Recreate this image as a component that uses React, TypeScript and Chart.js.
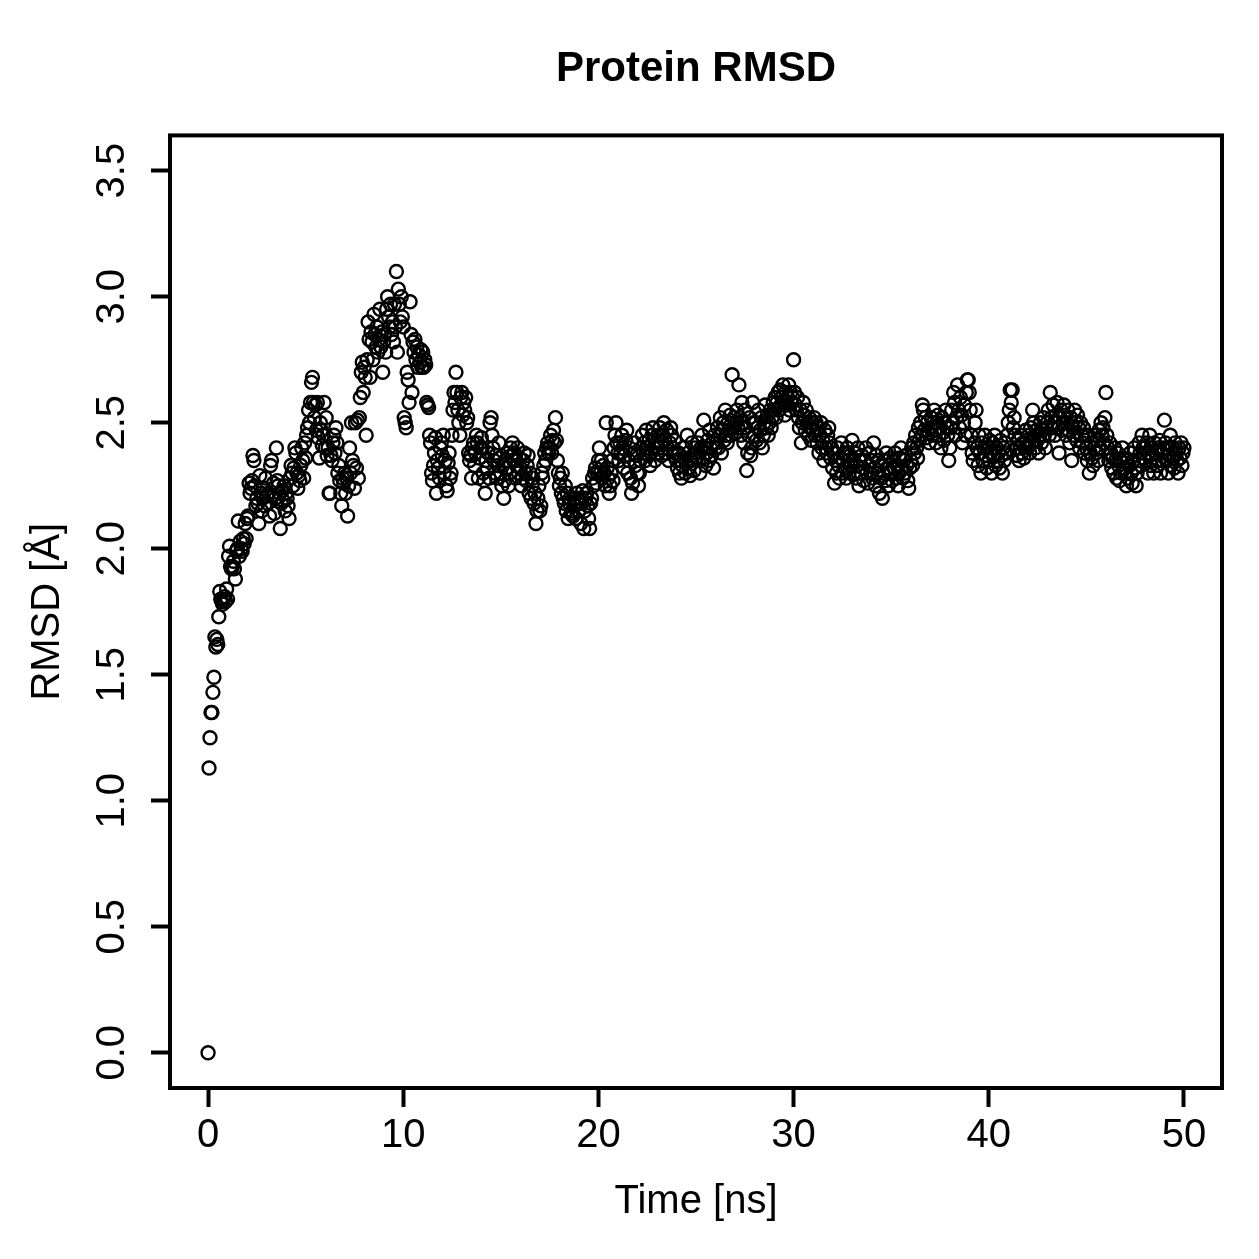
import { useEffect, useRef } from "react";
import { Chart, registerables } from "chart.js";

Chart.register(...registerables);

// Trajectory frames are written every 0.05 ns.
const FRAME_STEP_NS = 0.05;

// Backbone RMSD (Å), one row per nanosecond.
const rmsd00to10 = [
  0.00, 1.13, 1.25, 1.35, 1.35, 1.43, 1.49, 1.65, 1.61, 1.64, 1.62, 1.73, 1.83, 1.80, 1.79, 1.78, 1.80, 1.81, 1.79, 1.84,
  1.80, 1.97, 2.01, 1.93, 1.92, 1.93, 1.95, 1.92, 1.88, 1.99, 2.00, 2.11, 1.97, 2.03, 2.00, 1.99, 2.04, 2.02, 2.10, 2.04,
  2.12, 2.13, 2.26, 2.22, 2.24, 2.27, 2.37, 2.35, 2.25, 2.17, 2.20, 2.18, 2.10, 2.29, 2.22, 2.15, 2.20, 2.24, 2.17, 2.28,
  2.21, 2.18, 2.22, 2.13, 2.33, 2.35, 2.21, 2.26, 2.14, 2.20, 2.40, 2.27, 2.25, 2.22, 2.08, 2.18, 2.23, 2.19, 2.25, 2.15,
  2.22, 2.20, 2.17, 2.12, 2.28, 2.33, 2.30, 2.25, 2.32, 2.40, 2.38, 2.30, 2.24, 2.29, 2.27, 2.33, 2.40, 2.35, 2.28, 2.42,
  2.36, 2.45, 2.48, 2.55, 2.50, 2.58, 2.66, 2.68, 2.58, 2.52, 2.57, 2.47, 2.58, 2.44, 2.36, 2.50, 2.47, 2.41, 2.45, 2.58,
  2.40, 2.52, 2.37, 2.40, 2.22, 2.22, 2.37, 2.35, 2.42, 2.45, 2.38, 2.48, 2.42, 2.30, 2.33, 2.27, 2.22, 2.17, 2.28, 2.26,
  2.30, 2.22, 2.28, 2.13, 2.25, 2.40, 2.30, 2.50, 2.35, 2.33, 2.24, 2.50, 2.32, 2.51, 2.28, 2.52, 2.60, 2.70, 2.74, 2.62,
  2.72, 2.68, 2.45, 2.75, 2.90, 2.83, 2.68, 2.86, 2.82, 2.75, 2.93, 2.85, 2.80, 2.88, 2.78, 2.83, 2.95, 2.80, 2.86, 2.70,
  2.82, 2.85, 2.78, 2.95, 3.00, 2.92, 2.88, 2.97, 2.85, 2.90, 2.82, 2.97, 2.88, 3.10, 2.78, 3.03, 2.97, 2.90, 3.00, 2.92,
];

const rmsd10to20 = [
  2.88, 2.52, 2.50, 2.48, 2.70, 2.67, 2.58, 2.98, 2.85, 2.62, 2.82, 2.78, 2.83, 2.75, 2.80, 2.72, 2.77, 2.74, 2.79, 2.72,
  2.78, 2.72, 2.75, 2.73, 2.58, 2.57, 2.56, 2.45, 2.42, 2.30, 2.27, 2.33, 2.38, 2.44, 2.22, 2.35, 2.32, 2.28, 2.40, 2.42,
  2.37, 2.45, 2.30, 2.35, 2.25, 2.23, 2.34, 2.38, 2.28, 2.30, 2.45, 2.55, 2.62, 2.58, 2.70, 2.62, 2.55, 2.50, 2.45, 2.60,
  2.62, 2.53, 2.58, 2.55, 2.60, 2.50, 2.52, 2.38, 2.35, 2.37, 2.28, 2.40, 2.42, 2.33, 2.38, 2.45, 2.42, 2.28, 2.36, 2.40,
  2.44, 2.40, 2.30, 2.27, 2.22, 2.35, 2.32, 2.38, 2.28, 2.50, 2.52, 2.45, 2.40, 2.35, 2.30, 2.37, 2.28, 2.33, 2.42, 2.36,
  2.30, 2.25, 2.33, 2.20, 2.27, 2.35, 2.32, 2.38, 2.25, 2.30, 2.40, 2.37, 2.42, 2.35, 2.38, 2.28, 2.33, 2.40, 2.30, 2.36,
  2.32, 2.25, 2.28, 2.35, 2.38, 2.30, 2.27, 2.33, 2.37, 2.22, 2.30, 2.20, 2.25, 2.28, 2.18, 2.22, 2.10, 2.15, 2.20, 2.25,
  2.15, 2.17, 2.30, 2.28, 2.33, 2.38, 2.35, 2.40, 2.42, 2.38, 2.40, 2.45, 2.38, 2.43, 2.47, 2.42, 2.52, 2.43, 2.35, 2.30,
  2.25, 2.28, 2.22, 2.30, 2.20, 2.18, 2.25, 2.15, 2.22, 2.12, 2.18, 2.20, 2.14, 2.15, 2.13, 2.20, 2.17, 2.12, 2.22, 2.18,
  2.15, 2.20, 2.10, 2.18, 2.23, 2.08, 2.15, 2.20, 2.22, 2.17, 2.12, 2.08, 2.18, 2.20, 2.28, 2.25, 2.30, 2.32, 2.26, 2.30,
];

const rmsd20to30 = [
  2.35, 2.40, 2.30, 2.35, 2.28, 2.33, 2.30, 2.25, 2.50, 2.32, 2.28, 2.22, 2.25, 2.30, 2.35, 2.27, 2.40, 2.45, 2.50, 2.42,
  2.38, 2.35, 2.42, 2.38, 2.45, 2.40, 2.32, 2.37, 2.43, 2.47, 2.30, 2.35, 2.40, 2.28, 2.22, 2.26, 2.38, 2.42, 2.33, 2.37,
  2.30, 2.25, 2.30, 2.35, 2.40, 2.45, 2.38, 2.42, 2.35, 2.47, 2.40, 2.37, 2.43, 2.33, 2.38, 2.45, 2.48, 2.40, 2.35, 2.42,
  2.38, 2.45, 2.40, 2.48, 2.42, 2.37, 2.45, 2.50, 2.43, 2.38, 2.47, 2.40, 2.35, 2.42, 2.48, 2.45, 2.40, 2.37, 2.43, 2.38,
  2.35, 2.32, 2.38, 2.30, 2.35, 2.28, 2.33, 2.40, 2.36, 2.30, 2.34, 2.45, 2.38, 2.32, 2.29, 2.35, 2.42, 2.37, 2.31, 2.40,
  2.36, 2.38, 2.42, 2.35, 2.30, 2.40, 2.45, 2.36, 2.51, 2.40, 2.33, 2.38, 2.43, 2.35, 2.47, 2.40, 2.37, 2.42, 2.32, 2.45,
  2.40, 2.42, 2.48, 2.40, 2.45, 2.52, 2.38, 2.47, 2.50, 2.43, 2.55, 2.45, 2.42, 2.50, 2.47, 2.53, 2.45, 2.69, 2.48, 2.52,
  2.46, 2.50, 2.55, 2.48, 2.65, 2.52, 2.45, 2.58, 2.50, 2.42, 2.55, 2.48, 2.31, 2.38, 2.45, 2.52, 2.37, 2.40, 2.58, 2.50,
  2.45, 2.50, 2.43, 2.48, 2.55, 2.42, 2.47, 2.52, 2.40, 2.45, 2.50, 2.57, 2.48, 2.53, 2.45, 2.50, 2.55, 2.48, 2.52, 2.58,
  2.55, 2.60, 2.52, 2.58, 2.62, 2.55, 2.63, 2.57, 2.60, 2.65, 2.58, 2.53, 2.62, 2.57, 2.60, 2.65, 2.55, 2.62, 2.58, 2.60,
];

const rmsd30to40 = [
  2.75, 2.62, 2.57, 2.55, 2.60, 2.52, 2.48, 2.55, 2.42, 2.50, 2.58, 2.53, 2.47, 2.55, 2.50, 2.45, 2.52, 2.48, 2.43, 2.50,
  2.47, 2.52, 2.45, 2.50, 2.42, 2.48, 2.38, 2.45, 2.50, 2.40, 2.43, 2.35, 2.47, 2.40, 2.38, 2.45, 2.48, 2.42, 2.36, 2.40,
  2.32, 2.38, 2.26, 2.35, 2.30, 2.40, 2.33, 2.28, 2.36, 2.42, 2.30, 2.35, 2.38, 2.32, 2.28, 2.40, 2.35, 2.30, 2.37, 2.33,
  2.43, 2.35, 2.30, 2.38, 2.28, 2.33, 2.40, 2.25, 2.35, 2.30, 2.37, 2.32, 2.27, 2.35, 2.40, 2.30, 2.26, 2.33, 2.38, 2.30,
  2.35, 2.28, 2.42, 2.32, 2.25, 2.37, 2.30, 2.35, 2.22, 2.33, 2.28, 2.20, 2.30, 2.35, 2.27, 2.38, 2.32, 2.25, 2.30, 2.36,
  2.30, 2.27, 2.35, 2.32, 2.38, 2.28, 2.33, 2.25, 2.30, 2.36, 2.40, 2.32, 2.28, 2.35, 2.30, 2.37, 2.33, 2.27, 2.24, 2.32,
  2.35, 2.40, 2.33, 2.42, 2.38, 2.45, 2.40, 2.36, 2.48, 2.43, 2.50, 2.45, 2.57, 2.55, 2.47, 2.52, 2.44, 2.50, 2.46, 2.42,
  2.48, 2.52, 2.45, 2.50, 2.55, 2.47, 2.42, 2.50, 2.53, 2.45, 2.48, 2.40, 2.52, 2.46, 2.43, 2.50, 2.55, 2.48, 2.45, 2.35,
  2.40, 2.48, 2.55, 2.50, 2.62, 2.58, 2.45, 2.52, 2.65, 2.55, 2.48, 2.60, 2.53, 2.42, 2.50, 2.57, 2.45, 2.62, 2.67, 2.67,
  2.62, 2.55, 2.45, 2.38, 2.35, 2.42, 2.50, 2.55, 2.40, 2.33, 2.45, 2.38, 2.30, 2.42, 2.35, 2.40, 2.45, 2.37, 2.32, 2.40,
];

const rmsd40to50 = [
  2.35, 2.43, 2.38, 2.30, 2.42, 2.37, 2.45, 2.33, 2.40, 2.35, 2.38, 2.32, 2.43, 2.37, 2.30, 2.40, 2.35, 2.42, 2.38, 2.45,
  2.50, 2.55, 2.63, 2.58, 2.63, 2.48, 2.52, 2.45, 2.40, 2.37, 2.43, 2.35, 2.40, 2.45, 2.38, 2.42, 2.36, 2.40, 2.47, 2.43,
  2.40, 2.45, 2.38, 2.48, 2.42, 2.55, 2.50, 2.45, 2.40, 2.47, 2.43, 2.38, 2.45, 2.50, 2.42, 2.47, 2.52, 2.45, 2.40, 2.48,
  2.50, 2.55, 2.45, 2.62, 2.52, 2.48, 2.57, 2.50, 2.45, 2.53, 2.58, 2.48, 2.38, 2.52, 2.55, 2.47, 2.50, 2.57, 2.53, 2.45,
  2.50, 2.55, 2.47, 2.42, 2.52, 2.35, 2.48, 2.45, 2.55, 2.50, 2.43, 2.53, 2.48, 2.40, 2.50, 2.45, 2.42, 2.48, 2.38, 2.45,
  2.40, 2.35, 2.45, 2.30, 2.38, 2.42, 2.36, 2.33, 2.40, 2.45, 2.38, 2.43, 2.35, 2.47, 2.40, 2.50, 2.45, 2.48, 2.42, 2.52,
  2.62, 2.45, 2.40, 2.35, 2.42, 2.38, 2.32, 2.36, 2.30, 2.40, 2.35, 2.28, 2.38, 2.33, 2.27, 2.35, 2.30, 2.40, 2.36, 2.32,
  2.30, 2.25, 2.35, 2.28, 2.33, 2.38, 2.30, 2.26, 2.35, 2.40, 2.32, 2.25, 2.30, 2.35, 2.42, 2.38, 2.33, 2.45, 2.40, 2.36,
  2.40, 2.35, 2.42, 2.30, 2.38, 2.45, 2.33, 2.40, 2.36, 2.30, 2.42, 2.38, 2.33, 2.40, 2.35, 2.43, 2.30, 2.38, 2.35, 2.40,
  2.51, 2.42, 2.35, 2.40, 2.30, 2.37, 2.45, 2.33, 2.40, 2.36, 2.32, 2.42, 2.38, 2.35, 2.30, 2.40, 2.36, 2.42, 2.33, 2.38,
  2.40,
];

const timeTicks = [0, 10, 20, 30, 40, 50];
const rmsdTicks = [0, 0.5, 1.0, 1.5, 2.0, 2.5, 3.0, 3.5];

const FONT = "'Liberation Sans', Arial, Helvetica, sans-serif";

const rmsdSeries = [...rmsd00to10, ...rmsd10to20, ...rmsd20to30, ...rmsd30to40, ...rmsd40to50];
const rmsdPoints = rmsdSeries.map((y, i) => ({ x: Math.round(i * FRAME_STEP_NS * 100) / 100, y }));

// Closed frame around the plotting region.
const plotFrame = {
  id: "plotFrame",
  afterDraw(chart: any) {
    const { ctx, chartArea: a } = chart;
    ctx.save();
    ctx.strokeStyle = "#000";
    ctx.lineWidth = 4;
    ctx.strokeRect(a.left, a.top, a.right - a.left, a.bottom - a.top);
    ctx.restore();
  },
};

export default function App() {
  const canvasRef = useRef<HTMLCanvasElement | null>(null);

  useEffect(() => {
    const canvas = canvasRef.current;
    if (!canvas) return;
    const chart = new Chart(canvas, {
      type: "scatter",
      data: {
        datasets: [
          {
            data: rmsdPoints,
            pointStyle: "circle",
            pointRadius: 6.5,
            pointHoverRadius: 6.5,
            pointBorderWidth: 2.4,
            pointBorderColor: "#000",
            pointBackgroundColor: "rgba(0,0,0,0)",
            borderColor: "#000",
            backgroundColor: "rgba(0,0,0,0)",
            showLine: false,
          },
        ],
      },
      options: {
        responsive: false,
        animation: false,
        devicePixelRatio: 1,
        events: [],
        layout: { padding: { left: 0, right: 37, top: 0, bottom: 0 } },
        elements: {
          point: { radius: 6.5, borderWidth: 2.4, pointStyle: "circle" },
        },
        plugins: {
          legend: { display: false },
          tooltip: { enabled: false },
          title: {
            display: true,
            text: "Protein RMSD",
            color: "#000",
            fullSize: false,
            font: { family: FONT, size: 42, weight: "bold", lineHeight: 1.2 },
            padding: { top: 44, bottom: 41 },
          },
        },
        scales: {
          x: {
            type: "linear",
            position: "bottom",
            min: -1.95,
            max: 51.95,
            afterBuildTicks: (scale: any) => {
              scale.ticks = timeTicks.map((value) => ({ value }));
            },
            afterFit: (scale: any) => {
              scale.height = 171;
            },
            border: { display: false },
            grid: {
              display: true,
              drawOnChartArea: false,
              drawTicks: true,
              tickLength: 19,
              tickWidth: 4,
              tickColor: "#000",
            },
            ticks: {
              autoSkip: false,
              includeBounds: false,
              color: "#000",
              padding: 5,
              maxRotation: 0,
              font: { family: FONT, size: 40, lineHeight: 1.2 },
              callback: (v: any) => String(v),
            },
            title: {
              display: true,
              text: "Time [ns]",
              color: "#000",
              font: { family: FONT, size: 40, lineHeight: 1.2 },
              padding: { top: 0, bottom: 33 },
            },
          },
          y: {
            type: "linear",
            position: "left",
            min: -0.14,
            max: 3.64,
            afterBuildTicks: (scale: any) => {
              scale.ticks = rmsdTicks.map((value) => ({ value }));
            },
            afterFit: (scale: any) => {
              scale.width = 170;
            },
            border: { display: false },
            grid: {
              display: true,
              drawOnChartArea: false,
              drawTicks: true,
              tickLength: 19,
              tickWidth: 4,
              tickColor: "#000",
            },
            ticks: {
              autoSkip: false,
              includeBounds: false,
              color: "#000",
              padding: 10,
              minRotation: 90,
              maxRotation: 90,
              crossAlign: "center",
              font: { family: FONT, size: 40, lineHeight: 1.2 },
              callback: (v: any) => Number(v).toFixed(1),
            },
            title: {
              display: true,
              text: "RMSD [Å]",
              color: "#000",
              font: { family: FONT, size: 40, lineHeight: 1.2 },
              padding: { top: 24, bottom: 0 },
            },
          },
        },
      },
      plugins: [plotFrame],
    } as any);
    return () => chart.destroy();
  }, []);

  return (
    <div style={{ position: "fixed", left: 0, top: 0, width: 1259, height: 1259, background: "#fff" }}>
      <canvas ref={canvasRef} width={1259} height={1259} style={{ display: "block", width: 1259, height: 1259 }} />
    </div>
  );
}
